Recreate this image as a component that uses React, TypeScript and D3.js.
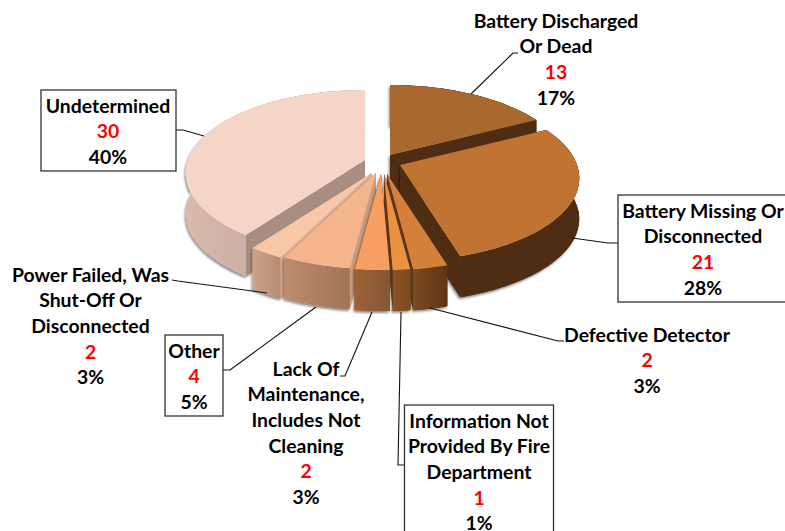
import React from "react";
import * as d3 from "d3";

const categories = [
  "Battery Discharged Or Dead",
  "Battery Missing Or Disconnected",
  "Defective Detector",
  "Information Not Provided By Fire Department",
  "Lack Of Maintenance, Includes Not Cleaning",
  "Other",
  "Power Failed, Was Shut-Off Or Disconnected",
  "Undetermined",
];
const counts = [13, 21, 2, 1, 2, 4, 2, 30];
const percents = ["17%", "28%", "3%", "1%", "3%", "5%", "3%", "40%"];
const labelLines = [
  ["Battery Discharged", "Or Dead"],
  ["Battery Missing Or", "Disconnected"],
  ["Defective Detector"],
  ["Information Not", "Provided By Fire", "Department"],
  ["Lack Of", "Maintenance,", "Includes Not", "Cleaning"],
  ["Other"],
  ["Power Failed, Was", "Shut-Off Or", "Disconnected"],
  ["Undetermined"],
];

// styling and layout
const topColors = ["#A9682D", "#C07433", "#D5803A", "#E99342", "#F79E61", "#F4B48C", "#F8C7A7", "#F5D6C6"];
const wallLeft = ["#4F2D13", "#4F2D13", "#7A4A20", "#8C5426", "#9C6238", "#BC8C6E", "#CDA38A", "#D9BAAA"];
const wallRight = ["#4F2D13", "#4F2D13", "#5E3616", "#7A4A22", "#855734", "#A27458", "#B58B72", "#AF9C98"];
const sideColors = ["#4F2D13", "#4F2D13", "#5E3616", "#5E3616", "#7A4A22", "#CC9C7D", "#D9AF96", "#A88E80"];
const apexes: [number, number][] = [
  [390, 155], [400, 165], [387, 174], [384, 174], [381, 174], [376, 173], [372, 173], [365, 160],
];
const drawOrder = [7, 0, 1, 2, 6, 5, 3, 4];
const R = 177, RY = 81, P = 0.157, DEPTH = 41;

const boxes = [null, [618, 195, 180, 107], null, [404.5, 405, 149, 140], null, [165, 335, 58, 81], null, [41, 90, 135, 81]];
const labelPos: [number, number][] = [
  [556, 27.6], [703, 217.6], [647, 341.6], [479, 427.6], [306, 375.6], [194, 357.6], [90.5, 281.6], [108, 112.6],
];
const leaders: [number, number][][] = [
  [[471, 94], [513, 53], [518, 53]],
  [[572, 238], [608, 243], [618, 243]],
  [[430, 308], [558, 341], [564, 341]],
  [[401, 312], [398, 465], [404, 465]],
  [[372, 312], [345, 376], [340, 376]],
  [[316, 307], [230, 370], [223, 370]],
  [[267, 293], [178, 281], [172, 280]],
  [[204, 136], [183, 130], [176, 130]],
];

const FONT = "Lato, 'Open Sans', sans-serif";
const FS = 19.4;
const LH = 25.7;

const pie = d3.pie<number>().sort(null).startAngle(0).endAngle(2 * Math.PI);
const arcs = pie(counts);

function rim(theta: number): [number, number] {
  const u = Math.sin(theta), v = Math.cos(theta);
  const k = 1 / (1 + P * v);
  return [R * u * k, -RY * v * k];
}
const line = d3.line();

export default function App() {
  return (
    <svg
      width={785}
      height={531}
      style={{ position: "absolute", left: 0, top: 0, background: "#fff" }}
    >
      <defs>
        {arcs.map((_, i) => (
          <linearGradient key={i} id={`wall${i}`} x1="0" x2="1" y1="0" y2="0">
            <stop offset="0" stopColor={wallLeft[i]} />
            <stop offset="1" stopColor={wallRight[i]} />
          </linearGradient>
        ))}
        <filter id="sh" x="-10%" y="-10%" width="120%" height="120%">
          <feDropShadow dx="-1.2" dy="2" stdDeviation="1.2" floodColor="#000" floodOpacity="0.45" />
        </filter>
      </defs>

      {drawOrder.map((i) => {
        const a = arcs[i];
        const [ax, ay] = apexes[i];
        const n = Math.max(4, Math.ceil((a.endAngle - a.startAngle) * 40));
        const thetas = d3.range(n + 1).map((t) => a.startAngle + ((a.endAngle - a.startAngle) * t) / n);
        const top = thetas.map((t) => {
          const [x, y] = rim(t);
          return [ax + x, ay + y] as [number, number];
        });
        const bottom = top.map(([x, y]) => [x, y + DEPTH] as [number, number]);
        const first = top[0];
        const last = top[top.length - 1];
        const apex: [number, number] = [ax, ay];
        const down = (p: [number, number]): [number, number] => [p[0], p[1] + DEPTH];
        const topPath = line([apex, ...top])! + "Z";
        const outer = line([...top, ...bottom.slice().reverse()])! + "Z";
        const startWall = line([apex, first, down(first), down(apex)])! + "Z";
        const endWall = line([apex, last, down(last), down(apex)])! + "Z";
        return (
          <g key={i}>
            <g filter="url(#sh)">
              <path d={startWall} fill={sideColors[i]} />
              <path d={endWall} fill={sideColors[i]} />
              <path d={outer} fill={`url(#wall${i})`} />
            </g>
            <path d={startWall} fill={sideColors[i]} />
            <path d={endWall} fill={sideColors[i]} />
            <path d={outer} fill={`url(#wall${i})`} />
            <path d={topPath} fill={topColors[i]} />
          </g>
        );
      })}

      {leaders.map((pts, i) => (
        <path key={i} d={line(pts)!} fill="none" stroke="#111" strokeWidth={1.1} />
      ))}

      {boxes.map((b, i) =>
        b ? (
          <rect key={i} x={b[0]} y={b[1]} width={b[2]} height={b[3]} fill="#fff" stroke="#333" strokeWidth={1.3} />
        ) : null
      )}

      {categories.map((name, i) => {
        const [x, y] = labelPos[i];
        const lines = labelLines[i];
        return (
          <text key={name} textAnchor="middle" fontFamily={FONT} fontSize={FS} fontWeight={700} fill="#000">
            {lines.map((l, j) => (
              <tspan key={j} x={x} y={y + j * LH}>{l}</tspan>
            ))}
            <tspan x={x} y={y + lines.length * LH} fill="#FF0000">{counts[i]}</tspan>
            <tspan x={x} y={y + (lines.length + 1) * LH}>{percents[i]}</tspan>
          </text>
        );
      })}
    </svg>
  );
}
